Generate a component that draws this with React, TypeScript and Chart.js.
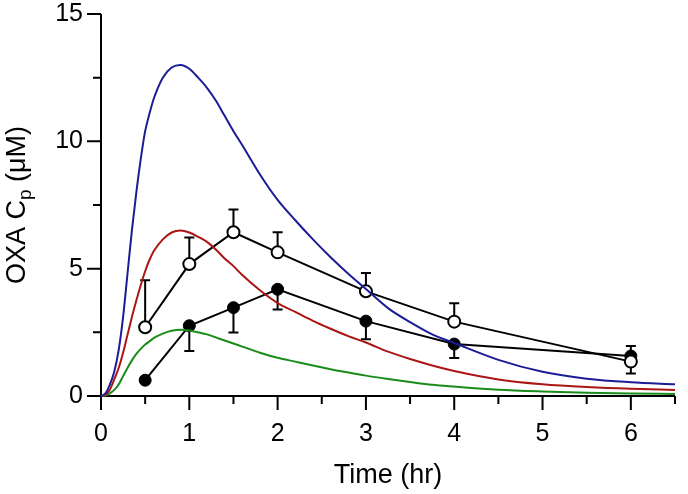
import React, { useEffect, useRef } from 'react';
import { Chart, registerables } from 'chart.js';

Chart.register(...registerables);

const FONT = '"Liberation Sans", Arial, Helvetica, sans-serif';

// Model curves
const curveTimes = [0, 0.05, 0.1, 0.15, 0.2, 0.25, 0.3, 0.35, 0.4, 0.45, 0.5, 0.55, 0.6, 0.7, 0.8, 0.9, 1.0, 1.1, 1.2, 1.3, 1.4, 1.5, 1.6, 1.8, 2.0, 2.2, 2.4, 2.6, 2.8, 3.0, 3.25, 3.5, 3.75, 4.0, 4.5, 5.0, 5.5, 6.0, 6.5];
const blueCurve = [0, 0.1, 0.45, 0.95, 1.8, 3.1, 4.8, 6.5, 8.0, 9.3, 10.4, 11.1, 11.7, 12.5, 12.9, 13.0, 12.85, 12.5, 12.1, 11.6, 11.0, 10.4, 9.85, 8.7, 7.7, 6.9, 6.15, 5.45, 4.8, 4.2, 3.45, 2.9, 2.42, 2.08, 1.42, 0.95, 0.68, 0.54, 0.46];
const redCurve = [0, 0.05, 0.25, 0.65, 1.1, 1.7, 2.4, 3.1, 3.75, 4.35, 4.9, 5.35, 5.7, 6.15, 6.42, 6.5, 6.42, 6.25, 6.05, 5.75, 5.4, 5.1, 4.75, 4.15, 3.65, 3.3, 2.95, 2.64, 2.35, 2.1, 1.74, 1.45, 1.2, 0.98, 0.65, 0.46, 0.35, 0.28, 0.24];
const greenCurve = [0, 0.02, 0.1, 0.24, 0.45, 0.78, 1.1, 1.4, 1.65, 1.85, 2.02, 2.15, 2.28, 2.45, 2.56, 2.6, 2.57, 2.5, 2.42, 2.3, 2.18, 2.06, 1.94, 1.7, 1.5, 1.35, 1.2, 1.05, 0.92, 0.8, 0.67, 0.55, 0.44, 0.37, 0.25, 0.18, 0.13, 0.1, 0.08];

// Measured data
const sampleTimes = [0.5, 1, 1.5, 2, 3, 4, 6];
const openMeans = [2.7, 5.18, 6.43, 5.64, 4.11, 2.92, 1.35];
const openErrUp = [1.85, 1.04, 0.89, 0.79, 0.72, 0.72, 0];
const openErrDown = [0, 0, 0, 0, 0, 0, 0.47];
const filledMeans = [0.62, 2.76, 3.47, 4.19, 2.94, 2.04, 1.57];
const filledErrUp = [0, 0, 0, 0, 0, 0, 0.39];
const filledErrDown = [0, 0.99, 0.98, 0.79, 0.71, 0.55, 0];

// Axes
const xMajorTicks = [0, 1, 2, 3, 4, 5, 6];
const xMinorTicks = [0.5, 1.5, 2.5, 3.5, 4.5, 5.5, 6.5];
const yMajorTicks = [0, 5, 10, 15];
const yMinorTicks = [2.5, 7.5, 12.5];
const xTitle = 'Time (hr)';
const yTitleMain = 'OXA C';
const yTitleSub = 'p';
const yTitleTail = ' (\u03bcM)';

const BLUE = 'rgb(28,28,150)';
const RED = 'rgb(170,22,22)';
const GREEN = 'rgb(25,140,25)';

const axesPlugin = {
  id: 'customAxes',
  beforeDatasetsDraw(chart: any) {
    const { ctx, chartArea } = chart;
    const xs = chart.scales.x;
    const ys = chart.scales.y;
    ctx.save();
    ctx.strokeStyle = '#000';
    ctx.lineWidth = 2;
    ctx.lineCap = 'butt';
    ctx.beginPath();
    ctx.moveTo(chartArea.left, chartArea.top);
    ctx.lineTo(chartArea.left, chartArea.bottom + 1);
    ctx.moveTo(chartArea.left - 1, chartArea.bottom);
    ctx.lineTo(chartArea.right, chartArea.bottom);
    yMajorTicks.forEach((v) => {
      const p = ys.getPixelForValue(v);
      ctx.moveTo(chartArea.left - 14, p);
      ctx.lineTo(chartArea.left, p);
    });
    yMinorTicks.forEach((v) => {
      const p = ys.getPixelForValue(v);
      ctx.moveTo(chartArea.left - 8, p);
      ctx.lineTo(chartArea.left, p);
    });
    xMajorTicks.forEach((v) => {
      const p = xs.getPixelForValue(v);
      ctx.moveTo(p, chartArea.bottom);
      ctx.lineTo(p, chartArea.bottom + 14);
    });
    xMinorTicks.forEach((v) => {
      const p = xs.getPixelForValue(v);
      ctx.moveTo(p, chartArea.bottom);
      ctx.lineTo(p, chartArea.bottom + 8);
    });
    ctx.stroke();
    ctx.restore();
  },
};

const errorBarPlugin = {
  id: 'errorBars',
  beforeDatasetsDraw(chart: any) {
    const { ctx } = chart;
    const ys = chart.scales.y;
    chart.data.datasets.forEach((ds: any, di: number) => {
      if (!ds.errUp) return;
      const meta = chart.getDatasetMeta(di);
      ctx.save();
      ctx.strokeStyle = '#000';
      ctx.lineWidth = 2;
      meta.data.forEach((pt: any, i: number) => {
        const v = ds.data[i].y;
        const draw = (target: number) => {
          const py = ys.getPixelForValue(target);
          ctx.beginPath();
          ctx.moveTo(pt.x, pt.y);
          ctx.lineTo(pt.x, py);
          ctx.moveTo(pt.x - 5, py);
          ctx.lineTo(pt.x + 5, py);
          ctx.stroke();
        };
        if (ds.errUp[i] > 0) draw(v + ds.errUp[i]);
        if (ds.errDown[i] > 0) draw(v - ds.errDown[i]);
      });
      ctx.restore();
    });
  },
};

const yTitlePlugin = {
  id: 'yTitle',
  afterDraw(chart: any) {
    const { ctx, chartArea } = chart;
    const cy = (chartArea.top + chartArea.bottom) / 2;
    const cx = 18;
    const mainFont = `27px ${FONT}`;
    const subFont = `19px ${FONT}`;
    ctx.save();
    ctx.fillStyle = '#000';
    ctx.textBaseline = 'middle';
    ctx.textAlign = 'left';
    ctx.font = mainFont;
    const w1 = ctx.measureText(yTitleMain).width;
    const w3 = ctx.measureText(yTitleTail).width;
    ctx.font = subFont;
    const w2 = ctx.measureText(yTitleSub).width;
    const total = w1 + w2 + w3;
    ctx.translate(cx, cy);
    ctx.rotate(-Math.PI / 2);
    let x = -total / 2;
    ctx.font = mainFont;
    ctx.fillText(yTitleMain, x, 0);
    x += w1;
    ctx.font = subFont;
    ctx.fillText(yTitleSub, x, 8);
    x += w2;
    ctx.font = mainFont;
    ctx.fillText(yTitleTail, x, 0);
    ctx.restore();
  },
};

const toPoints = (xs: number[], ys: number[]) => xs.map((x, i) => ({ x, y: ys[i] }));

export default function App() {
  const canvasRef = useRef<HTMLCanvasElement | null>(null);

  useEffect(() => {
    document.body.style.margin = '0';
    const canvas = canvasRef.current;
    if (!canvas) return;
    const tickFont = { family: FONT, size: 25, lineHeight: 1 };
    const titleFont = { family: FONT, size: 27, lineHeight: 1 };
    const curveDs = (data: number[], color: string) => ({
      type: 'line' as const,
      data: toPoints(curveTimes, data),
      borderColor: color,
      backgroundColor: color,
      borderWidth: 2,
      pointRadius: 0,
      cubicInterpolationMode: 'monotone' as const,
      clip: false,
    });
    const chart = new Chart(canvas, {
      type: 'line',
      data: {
        datasets: [
          curveDs(blueCurve, BLUE),
          curveDs(redCurve, RED),
          curveDs(greenCurve, GREEN),
          {
            data: toPoints(sampleTimes, openMeans),
            borderColor: '#000',
            backgroundColor: '#fff',
            borderWidth: 2,
            pointRadius: 6,
            pointBorderWidth: 2,
            pointBackgroundColor: '#fff',
            pointBorderColor: '#000',
            tension: 0,
            clip: false,
            errUp: openErrUp,
            errDown: openErrDown,
          } as any,
          {
            data: toPoints(sampleTimes, filledMeans),
            borderColor: '#000',
            backgroundColor: '#000',
            borderWidth: 2,
            pointRadius: 6,
            pointBorderWidth: 1,
            pointBackgroundColor: '#000',
            pointBorderColor: '#000',
            tension: 0,
            clip: false,
            errUp: filledErrUp,
            errDown: filledErrDown,
          } as any,
        ],
      },
      options: {
        responsive: false,
        animation: false,
        events: [],
        layout: { padding: { left: 0, right: 13, top: 14, bottom: 0 } },
        plugins: { legend: { display: false }, tooltip: { enabled: false } },
        scales: {
          x: {
            type: 'linear',
            min: 0,
            max: 6.5,
            afterFit: (s: any) => { s.height = 98; },
            afterBuildTicks: (s: any) => { s.ticks = xMajorTicks.map((v) => ({ value: v })); },
            grid: { display: false, drawTicks: true, tickLength: 26 },
            border: { display: false },
            ticks: {
              font: tickFont,
              color: '#000',
              padding: 0,
              maxRotation: 0,
              autoSkip: false,
              callback: (v: any) => String(v),
            },
            title: {
              display: true,
              text: xTitle,
              color: '#000',
              font: titleFont,
              padding: { top: 0, bottom: 5 },
            },
          },
          y: {
            type: 'linear',
            min: 0,
            max: 15,
            afterFit: (s: any) => { s.width = 101; },
            afterBuildTicks: (s: any) => { s.ticks = yMajorTicks.map((v) => ({ value: v })); },
            grid: { display: false, drawTicks: true, tickLength: 18 },
            border: { display: false },
            ticks: {
              font: tickFont,
              color: '#000',
              padding: 0,
              autoSkip: false,
              callback: (v: any) => String(v),
            },
          },
        },
      },
      plugins: [axesPlugin, errorBarPlugin, yTitlePlugin],
    });
    return () => chart.destroy();
  }, []);

  return (
    <div style={{ position: 'absolute', left: 0, top: 0, width: 688, height: 494, background: '#fff' }}>
      <canvas ref={canvasRef} width={688} height={494} />
    </div>
  );
}
